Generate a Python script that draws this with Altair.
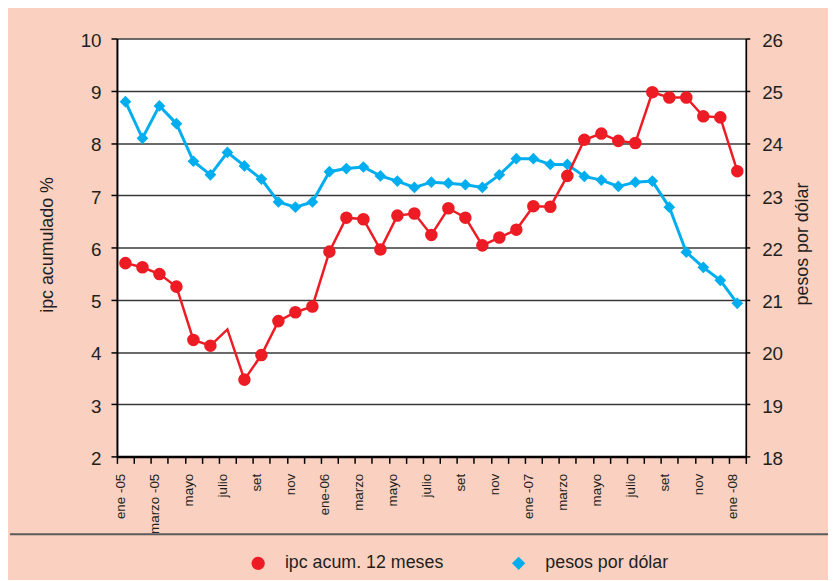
import json
import altair as alt
import pandas as pd

# ---- data ----
ipc_name = "ipc acum. 12 meses"
usd_name = "pesos por dólar"

month_index = list(range(37))  # ene-05 ... ene-08
ipc = [5.70, 5.62, 5.49, 5.25, 4.23, 4.12, 4.43, 3.47, 3.94, 4.59, 4.76, 4.87,
       5.92, 6.57, 6.54, 5.96, 6.61, 6.65, 6.24, 6.75, 6.57, 6.04, 6.19, 6.34,
       6.79, 6.78, 7.37, 8.06, 8.18, 8.04, 8.00, 8.97, 8.87, 8.87, 8.51, 8.49,
       7.46]
ipc_marker = [True] * 37
ipc_marker[6] = False
pesos = [24.79, 24.09, 24.71, 24.37, 23.65, 23.39, 23.82, 23.56, 23.31, 22.87,
         22.77, 22.87, 23.45, 23.51, 23.54, 23.37, 23.27, 23.15, 23.25, 23.23,
         23.20, 23.15, 23.39, 23.70, 23.70, 23.59, 23.59, 23.36, 23.29, 23.17,
         23.25, 23.27, 22.77, 21.91, 21.62, 21.37, 20.93]
tick_labels = ["ene -05", "marzo -05", "mayo", "julio", "set", "nov", "ene-06",
               "marzo", "mayo", "julio", "set", "nov", "ene -07", "marzo",
               "mayo", "julio", "set", "nov", "ene -08"]
left_ticks = [2, 3, 4, 5, 6, 7, 8, 9, 10]
right_ticks = [18, 19, 20, 21, 22, 23, 24, 25, 26]

rows = []
for i in month_index:
    rows.append({"mes": i + 0.5, "valor": ipc[i], "serie": ipc_name, "marker": ipc_marker[i]})
    rows.append({"mes": i + 0.5, "valor": pesos[i], "serie": usd_name, "marker": True})
df = pd.DataFrame(rows)

RED = "#ED1C24"
BLUE = "#00AEEF"
TXT = "#231F20"
SANS = "Liberation Sans, Arial, sans-serif"

label_expr = ("datum.value % 2 == 0 ? " + json.dumps(tick_labels, ensure_ascii=False)
              + "[datum.value / 2] : ''")

x_enc = alt.X(
    "mes:Q",
    scale=alt.Scale(domain=[0, 37], nice=False, zero=False),
    axis=alt.Axis(
        values=list(range(38)), labelExpr=label_expr, title=None, grid=False,
        labelAngle=270, labelAlign="right", labelBaseline="middle",
        labelPadding=10, labelOffset=3.5, labelOverlap=False, labelFlush=False,
        labelFont=SANS, labelFontSize=13.5, labelColor=TXT,
        tickSize=7, tickWidth=1.5, tickColor="black",
        domainColor="black", domainWidth=2.5,
    ),
)

y_left = alt.Y(
    "valor:Q",
    scale=alt.Scale(domain=[2, 10], nice=False, zero=False),
    axis=alt.Axis(
        orient="left", values=left_ticks, title="ipc acumulado %",
        titleFont=SANS, titleFontSize=18, titleFontWeight="normal", titleColor=TXT,
        titleAngle=270, titleAlign="center", titleBaseline="middle",
        titleX=-70, titleY=208,
        labelFont=SANS, labelFontSize=19, labelColor=TXT, labelPadding=10,
        labelOffset=2, labelOverlap=False,
        tickSize=6, tickWidth=1.5, tickColor="black",
        domainColor="black", domainWidth=2,
        grid=True, gridColor="#3a3a3a", gridWidth=1.5,
    ),
)

y_right = alt.Y(
    "valor:Q",
    scale=alt.Scale(domain=[18, 26], nice=False, zero=False),
    axis=alt.Axis(
        orient="right", values=right_ticks, title="pesos por dólar",
        titleFont=SANS, titleFontSize=18, titleFontWeight="normal", titleColor=TXT,
        titleAngle=270, titleAlign="center", titleBaseline="middle",
        titleX=57, titleY=207,
        labelFont=SANS, labelFontSize=19, labelColor=TXT, labelPadding=12,
        labelOffset=2, labelOverlap=False,
        tickSize=4, tickWidth=1.5, tickColor="black",
        domainColor="black", domainWidth=1.7,
        grid=False,
    ),
)

legend = alt.Legend(
    orient="none", legendX=133.6, legendY=521, direction="horizontal",
    title=None, symbolSize=180, symbolStrokeWidth=0, symbolOpacity=1,
    labelFont=SANS, labelFontSize=18, labelColor=TXT, labelOffset=18,
    labelLimit=400, columnPadding=66, padding=0,
)
color_enc = alt.Color("serie:N", scale=alt.Scale(domain=[ipc_name, usd_name], range=[RED, BLUE]),
                      legend=legend)
shape_enc = alt.Shape("serie:N", scale=alt.Scale(domain=[ipc_name, usd_name], range=["circle", "diamond"]),
                      legend=legend)

base = alt.Chart(df)

blue_line = base.transform_filter(alt.datum.serie == usd_name).mark_line(
    color=BLUE, strokeWidth=3).encode(x=x_enc, y=y_right)
blue_pts = base.transform_filter(alt.datum.serie == usd_name).mark_point(
    filled=True, size=140, opacity=1, strokeWidth=0).encode(
    x=x_enc, y=y_right, color=color_enc, shape=shape_enc)

red_line = base.transform_filter(alt.datum.serie == ipc_name).mark_line(
    color=RED, strokeWidth=2.5).encode(x=x_enc, y=y_left)
red_pts = base.transform_filter(
    (alt.datum.serie == ipc_name) & (alt.datum.marker == True)).mark_point(
    filled=True, size=160, opacity=1, strokeWidth=0).encode(
    x=x_enc, y=y_left, color=color_enc, shape=shape_enc)

sep = alt.Chart(pd.DataFrame({"k": [0]})).mark_rule(
    color="#5a5a5a", strokeWidth=2).encode(
    x=alt.value(-108), x2=alt.value(718), y=alt.value(500.7))

chart = alt.layer(
    alt.layer(blue_line, blue_pts),
    alt.layer(red_line, red_pts),
    sep,
).resolve_scale(y="independent").properties(
    width=635, height=422,
    padding={"left": 110, "top": 28, "right": 83, "bottom": 122},
    autosize=alt.AutoSizeParams(type="none"),
).configure(background="#FAD0C0").configure_view(fill="white", strokeWidth=0)

chart.save("out.html", embed_options={"renderer": "svg", "actions": False})
